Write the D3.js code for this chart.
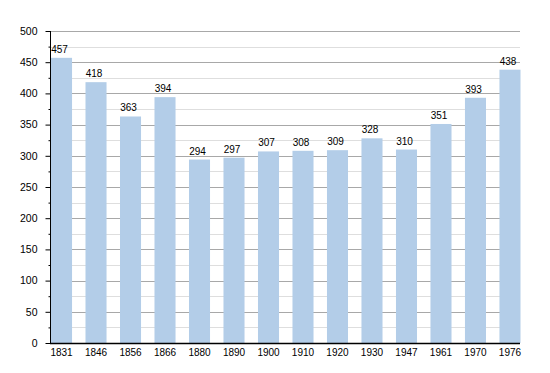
<html>
<head>
<style>
  body { margin: 0; background: #fff; }
  text { font-family: "Liberation Sans", Arial, sans-serif; }
</style>
</head>
<body>
<svg id="chart" width="550" height="373"></svg>
<script src="https://d3js.org/d3.v7.min.js" charset="utf-8"></script>
<script>
// data
let years = ["1831","1846","1856","1866","1880","1890","1900","1910","1920","1930","1947","1961","1970","1976"]
let population = [457, 418, 363, 394, 294, 297, 307, 308, 309, 328, 310, 351, 393, 438]
let yTicks = [0, 50, 100, 150, 200, 250, 300, 350, 400, 450, 500]
let yMinorTicks = [25, 75, 125, 175, 225, 275, 325, 375, 425, 475]

let data = years.map((y, i) => ({ year: y, value: population[i] }))

let svg = d3.select("#chart")

let x = d3.scaleBand()
    .domain(years)
    .range([51, 520.5])
    .paddingInner(0.39)
    .paddingOuter(0)

let y = d3.scaleLinear()
    .domain([0, 500])
    .range([343, 31])

// grid lines
svg.append("g").selectAll("line").data(yMinorTicks).enter()
    .append("line")
    .attr("x1", 50).attr("x2", 520)
    .attr("y1", d => Math.round(y(d)) + 0.5).attr("y2", d => Math.round(y(d)) + 0.5)
    .style("stroke", "#dedede")

svg.append("g").selectAll("line").data(yTicks.slice(1)).enter()
    .append("line")
    .attr("x1", 50).attr("x2", 520)
    .attr("y1", d => Math.round(y(d)) + 0.5).attr("y2", d => Math.round(y(d)) + 0.5)
    .style("stroke", "#a8a8a8")

// bars
svg.append("g").selectAll("rect").data(data).enter()
    .append("rect")
    .attr("x", d => x(d.year))
    .attr("width", x.bandwidth())
    .attr("y", d => y(d.value))
    .attr("height", d => y(0) - y(d.value))
    .style("fill", "#b3cde8")

// value labels (sit a little left of the bar centre, like the original)
svg.append("g").selectAll("text").data(data).enter()
    .append("text")
    .attr("x", d => x(d.year) + x.bandwidth() / 2 - 2)
    .attr("y", d => y(d.value) - 5)
    .attr("text-anchor", "middle")
    .style("font-size", "10px")
    .style("fill", "#000")
    .text(d => d.value)

// y axis
let yAxis = d3.axisLeft(y).tickValues(yTicks).tickSize(5).tickPadding(8)
let gy = svg.append("g")
    .attr("transform", "translate(50.5,0)")
    .call(yAxis)
gy.select(".domain").attr("d", "M0," + y(500) + "V" + y(0)).style("stroke", "#000")
gy.selectAll("text").style("font-size", "10.5px").style("font-family", "Liberation Sans, Arial, sans-serif")

let yMinor = d3.axisLeft(y).tickValues(yMinorTicks).tickSize(2).tickFormat("")
svg.append("g")
    .attr("transform", "translate(50.5,0)")
    .call(yMinor)
    .select(".domain").remove()

// x axis
let xAxis = d3.axisBottom(x).tickSize(0).tickPadding(5)
let gx = svg.append("g")
    .attr("transform", "translate(0," + (y(0) + 0.5) + ")")
    .call(xAxis)
gx.select(".domain").attr("d", "M50,0H520").style("stroke", "#000").style("stroke-width", 1.5)
gx.selectAll("text").style("font-size", "10px").style("font-family", "Liberation Sans, Arial, sans-serif")
</script>
</body>
</html>
